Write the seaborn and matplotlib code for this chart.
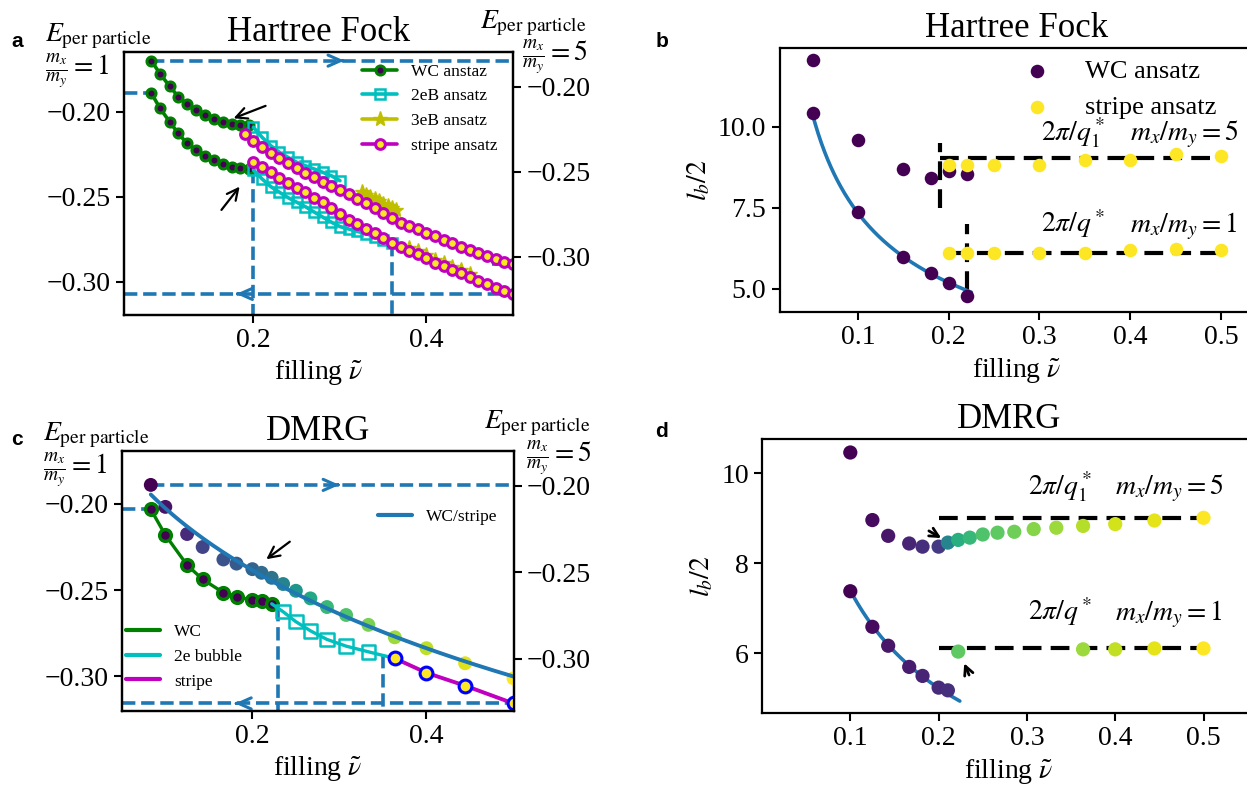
import numpy as np
import pandas as pd
import matplotlib
matplotlib.use("Agg")
import matplotlib.pyplot as plt
from matplotlib.lines import Line2D
import seaborn as sns

# ======================= DATA =======================
# ---- panel a : Hartree-Fock energy per particle ----
a_wc_x = [0.082, 0.092, 0.103, 0.113, 0.123, 0.134, 0.144, 0.154, 0.165, 0.175, 0.185, 0.195]
a_wc_m1 = [-0.1892, -0.1980, -0.2059, -0.2127, -0.2186, -0.2225, -0.2259, -0.2284, -0.2308, -0.2324, -0.2334, -0.2340]
a_wc_m5 = [-0.1847, -0.1925, -0.1996, -0.2059, -0.2102, -0.2137, -0.2167, -0.2190, -0.2206, -0.2218, -0.2224, -0.2228]

a_2eb_x_m5 = [0.20, 0.21, 0.22, 0.23, 0.24, 0.25, 0.26, 0.27, 0.28, 0.29, 0.30]
a_2eb_m5 = [-0.2239, -0.2298, -0.2347, -0.2386, -0.2416, -0.2445, -0.2465, -0.2484, -0.2504, -0.2524, -0.2553]
a_2eb_x_m1 = [0.20, 0.21, 0.22, 0.23, 0.24, 0.25, 0.26, 0.27, 0.28, 0.29, 0.30, 0.31, 0.32, 0.33, 0.34, 0.35, 0.36]
a_2eb_m1 = [-0.2343, -0.2396, -0.2441, -0.2474, -0.2506, -0.2533, -0.2559, -0.2590, -0.2620, -0.2650, -0.2676,
            -0.2690, -0.2704, -0.2718, -0.2735, -0.2752, -0.2770]

a_3eb_x_m5 = [0.325, 0.33, 0.335, 0.34, 0.345, 0.35, 0.355, 0.36, 0.365]
a_3eb_m5 = [-0.2622, -0.2640, -0.2650, -0.2662, -0.2675, -0.2688, -0.2700, -0.2712, -0.2725]
a_3eb_x_m1 = [0.38, 0.39, 0.40, 0.41, 0.42, 0.43, 0.44, 0.45]
a_3eb_m1 = [-0.2803, -0.2822, -0.2845, -0.2870, -0.2890, -0.2912, -0.2933, -0.2955]

a_str_x_m5 = [0.19, 0.20, 0.21, 0.22, 0.23, 0.24, 0.25, 0.26, 0.27, 0.28, 0.29, 0.30, 0.31, 0.32, 0.33, 0.34,
              0.35, 0.36, 0.37, 0.38, 0.39, 0.40, 0.41, 0.42, 0.43, 0.44, 0.45, 0.46, 0.47, 0.48, 0.49, 0.50]
a_str_m5 = [-0.2279, -0.2318, -0.2357, -0.2390, -0.2422, -0.2449, -0.2480, -0.2508, -0.2533, -0.2559, -0.2582,
            -0.2606, -0.2631, -0.2659, -0.2687, -0.2715, -0.2743, -0.2772, -0.2800, -0.2818, -0.2839, -0.2859,
            -0.2878, -0.2902, -0.2921, -0.2941, -0.2961, -0.2980, -0.2996, -0.3015, -0.3029, -0.3042]
a_str_x_m1 = [0.20, 0.21, 0.22, 0.23, 0.24, 0.25, 0.26, 0.27, 0.28, 0.29, 0.30, 0.31, 0.32, 0.33, 0.34, 0.35,
              0.36, 0.37, 0.38, 0.39, 0.40, 0.41, 0.42, 0.43, 0.44, 0.45, 0.46, 0.47, 0.48, 0.49, 0.50]
a_str_m1 = [-0.2294, -0.2324, -0.2357, -0.2388, -0.2418, -0.2447, -0.2474, -0.2506, -0.2533, -0.2565, -0.2601,
            -0.2637, -0.2661, -0.2692, -0.2715, -0.2745, -0.2771, -0.2795, -0.2819, -0.2839, -0.2863, -0.2888,
            -0.2908, -0.2931, -0.2951, -0.2974, -0.2996, -0.3016, -0.3035, -0.3053, -0.3072]
a_transitions = [0.20, 0.36]

# ---- panel b : Hartree-Fock length scale ----
b_wc_x = [0.05, 0.05, 0.10, 0.10, 0.15, 0.15, 0.18, 0.18, 0.20, 0.20, 0.22, 0.22]
b_wc_l = [12.06, 10.41, 9.59, 7.38, 8.71, 5.99, 8.41, 5.49, 8.64, 5.18, 8.54, 4.77]
b_wc1_x = [0.05, 0.10, 0.15, 0.18, 0.20, 0.22]
b_wc1_l = [10.41, 7.38, 5.99, 5.49, 5.18, 4.77]
b_str_x = [0.20, 0.22, 0.25, 0.30, 0.35, 0.40, 0.45, 0.50, 0.20, 0.22, 0.25, 0.30, 0.35, 0.40, 0.45, 0.50]
b_str_l = [8.82, 8.82, 8.82, 8.82, 8.97, 8.97, 9.16, 9.10, 6.09, 6.09, 6.09, 6.09, 6.09, 6.19, 6.21, 6.19]
b_q1 = 9.02      # 2*pi/q1*
b_q = 6.09       # 2*pi/q*
b_trans = [0.19, 0.22]
b_fit_range = [0.05, 0.225]

# ---- panel c : DMRG energy per particle ----
c_up_x = [0.0833, 0.1, 0.125, 0.1429, 0.1667, 0.1818, 0.2, 0.2105, 0.2222, 0.2353, 0.25, 0.2667, 0.2857,
          0.3077, 0.3333, 0.3636, 0.4, 0.4444, 0.5]
c_up_E = [-0.1994, -0.2121, -0.2278, -0.2353, -0.2425, -0.2449, -0.2481, -0.2502, -0.2531, -0.2567, -0.2606,
          -0.2650, -0.2700, -0.2746, -0.2803, -0.2875, -0.2938, -0.3025, -0.3112]
c_up_c = [0.0, 0.05, 0.12, 0.2, 0.25, 0.28, 0.32, 0.35, 0.38, 0.45, 0.52, 0.6, 0.67, 0.72, 0.8, 0.85, 0.9, 0.95, 1.0]
c_wc_x = [0.0833, 0.1, 0.125, 0.1429, 0.1667, 0.1818, 0.2, 0.2105, 0.2222]
c_wc_E = [-0.2031, -0.2180, -0.2355, -0.2438, -0.2515, -0.2539, -0.2558, -0.2565, -0.2580]
c_2e_x = [0.2353, 0.25, 0.2667, 0.2857, 0.3077, 0.3333]
c_2e_E = [-0.2626, -0.2684, -0.2737, -0.2787, -0.2826, -0.2859]
c_st_x = [0.3636, 0.4, 0.4444, 0.5]
c_st_E = [-0.2897, -0.2981, -0.3056, -0.3159]
c_transitions = [0.229, 0.35]

# ---- panel d : DMRG length scale ----
d_up_x = [0.1, 0.125, 0.1429, 0.1667, 0.1818, 0.2, 0.2105, 0.2222, 0.2353, 0.25, 0.2667, 0.2857, 0.3077,
          0.3333, 0.3636, 0.4, 0.4444, 0.5]
d_up_l = [10.46, 8.96, 8.61, 8.44, 8.37, 8.37, 8.46, 8.52, 8.57, 8.64, 8.68, 8.70, 8.76, 8.79, 8.83, 8.87, 8.95, 9.01]
d_up_c = [0.0, 0.03, 0.06, 0.1, 0.13, 0.17, 0.45, 0.63, 0.67, 0.72, 0.75, 0.78, 0.82, 0.85, 0.89, 0.93, 0.96, 1.0]
d_lo_x = [0.1, 0.125, 0.1429, 0.1667, 0.1818, 0.2, 0.2105, 0.2222, 0.3636, 0.4, 0.4444, 0.5]
d_lo_l = [7.38, 6.59, 6.17, 5.70, 5.50, 5.24, 5.18, 6.04, 6.09, 6.09, 6.11, 6.11]
d_lo_c = [0.0, 0.03, 0.06, 0.08, 0.1, 0.12, 0.14, 0.75, 0.85, 0.91, 0.96, 1.0]
d_wc_n = 7
d_q1 = 9.01
d_q = 6.11
d_fit_range = [0.1, 0.224]

# ======================= STYLE =======================
sns.set_theme(style="ticks", color_codes=False)
plt.rcParams["font.family"] = ["Liberation Serif", "DejaVu Serif"]
plt.rcParams["mathtext.fontset"] = "stix"
plt.rcParams["axes.unicode_minus"] = True
for k in ["text.color", "axes.labelcolor", "xtick.color", "ytick.color", "axes.edgecolor"]:
    plt.rcParams[k] = "black"

W, H = 1247, 793
BLUE = "#1f77b4"
GREEN = "#008000"
CYAN = "#00bfbf"
OLIVE = "#bfbf00"
MAG = "#bf00bf"
cmap = plt.get_cmap("viridis")
V0, V1 = cmap(0.0), cmap(1.0)
TICK = 20
LAB = 20
TIT = 25
LEG = 12.5

fig = plt.figure(figsize=(W / 100, H / 100), dpi=100)


def px_axes(l, t, r, b):
    return fig.add_axes([l / W, 1 - b / H, (r - l) / W, (b - t) / H])


def style_ax(ax):
    for s in ax.spines.values():
        s.set_linewidth(1.6)
        s.set_color("black")
    ax.tick_params(direction="out", length=6, width=1.5, labelsize=TICK, colors="black")
    ax.grid(False)


def fig_text(x, y, s, **kw):
    fig.text(x / W, 1 - y / H, s, **kw)


def chevron(ax, x, y, d):
    ax.annotate("", xy=(x, y), xytext=(x - d * 0.002, y),
                arrowprops=dict(arrowstyle="->,head_length=0.45,head_width=0.2", color=BLUE, lw=2.2,
                                shrinkA=0, shrinkB=0, mutation_scale=20))


def karrow(ax, tail, tip, lw=1.6, ms=20):
    ax.annotate("", xy=tip, xytext=tail,
                arrowprops=dict(arrowstyle="->", color="black", lw=lw, shrinkA=0, shrinkB=0, mutation_scale=ms))


def line(ax, x, y, **kw):
    sns.lineplot(x=x, y=y, ax=ax, estimator=None, sort=False, legend=False, **kw)


# ======================= PANEL a =======================
axA = px_axes(123.7, 52.3, 513, 315)
axA2 = axA.twinx()
xl = (0.05, 0.5)
axA.set_xlim(*xl)
axA.set_ylim(-0.3196, -0.1651)
axA2.set_ylim(-0.3343, -0.1798)

dash = dict(color=BLUE, lw=2.6, ls="--", zorder=1)
axA.plot([xl[0], a_wc_x[0]], [a_wc_m1[0]] * 2, **dash)
axA.plot([xl[0], a_str_x_m1[-1]], [a_str_m1[-1]] * 2, **dash)
for xt in a_transitions:
    yt = np.interp(xt, a_2eb_x_m1, a_2eb_m1)
    axA.plot([xt, xt], [yt, -0.3196], **dash)
chevron(axA, 0.18, a_str_m1[-1], -1)
axA2.plot([a_wc_x[0], xl[1]], [a_wc_m5[0]] * 2, **dash)
axA2.plot([0.476, xl[1]], [a_str_m5[-1]] * 2, **dash)
chevron(axA2, 0.305, a_wc_m5[0], 1)

wc_kw = dict(color=GREEN, lw=2.6, marker="o", ms=6.5, mfc=V0, mec=GREEN, mew=2.2)
eb2_kw = dict(color=CYAN, lw=2.6, marker="s", ms=7, mfc="none", mec=CYAN, mew=1.8)
eb3_kw = dict(color=OLIVE, lw=2.6, marker="*", ms=11, mfc=OLIVE, mec=OLIVE, mew=1.0)
st_kw = dict(color=MAG, lw=2.6, marker="o", ms=7, mfc=V1, mec=MAG, mew=2.2)
for ax, wx, wy, ex, ey, tx, ty, sx, sy in [
        (axA, a_wc_x, a_wc_m1, a_2eb_x_m1, a_2eb_m1, a_3eb_x_m1, a_3eb_m1, a_str_x_m1, a_str_m1),
        (axA2, a_wc_x, a_wc_m5, a_2eb_x_m5, a_2eb_m5, a_3eb_x_m5, a_3eb_m5, a_str_x_m5, a_str_m5)]:
    line(ax, wx, wy, **wc_kw)
    line(ax, ex, ey, **eb2_kw)
    line(ax, tx, ty, **eb3_kw)
    line(ax, sx, sy, **st_kw)

karrow(axA, (0.214, -0.1966), (0.177, -0.2039))
karrow(axA, (0.163, -0.2578), (0.184, -0.2441))

TL = ["\u22120.30", "\u22120.25", "\u22120.20"]
axA.set_xticks([0.2, 0.4])
axA.set_xticklabels(["0.2", "0.4"])
for ax in (axA, axA2):
    ax.set_yticks([-0.30, -0.25, -0.20])
    ax.set_yticklabels(TL)
    ax.set_ylabel("")
    style_ax(ax)
axA.set_xlabel(r"filling $\tilde{\nu}$", fontsize=LAB)
axA.set_title("Hartree Fock", fontsize=TIT, pad=8)
hA = [Line2D([], [], **wc_kw), Line2D([], [], **eb2_kw), Line2D([], [], **eb3_kw), Line2D([], [], **st_kw)]
axA2.legend(hA, ["WC anstaz", "2eB ansatz", "3eB ansatz", "stripe ansatz"], loc="center right",
            bbox_to_anchor=(1.0, 0.785), frameon=False, fontsize=LEG)

# ======================= PANEL c =======================
axC = px_axes(121.8, 451, 513.5, 711)
axC2 = axC.twinx()
axC.set_xlim(*xl)
axC.set_ylim(-0.3203, -0.1692)
axC2.set_ylim(-0.3301, -0.1798)

axC.plot([xl[0], c_wc_x[0]], [c_wc_E[0]] * 2, **dash)
axC.plot([xl[0], c_st_x[-1]], [c_st_E[-1]] * 2, **dash)
cyan_x = [c_wc_x[-1]] + c_2e_x + [c_st_x[0]]
cyan_E = [c_wc_E[-1]] + c_2e_E + [c_st_E[0]]
for xt in c_transitions:
    yt = np.interp(xt, cyan_x, cyan_E)
    axC.plot([xt, xt], [yt, -0.3203], **dash)
chevron(axC, 0.18, c_st_E[-1], -1)
axC2.plot([c_up_x[0], xl[1]], [c_up_E[0]] * 2, **dash)
chevron(axC2, 0.30, c_up_E[0], 1)

line(axC, c_wc_x, c_wc_E, color=GREEN, lw=2.4, marker="o", ms=8.5, mfc=V0, mec=GREEN, mew=2.4)
line(axC, cyan_x, cyan_E, color=CYAN, lw=2.4)
sns.scatterplot(x=c_2e_x, y=c_2e_E, ax=axC, marker="s", s=95, facecolor="none", edgecolor=CYAN,
                linewidth=1.8, legend=False, zorder=3)
line(axC, c_st_x, c_st_E, color=MAG, lw=2.8)
sns.scatterplot(x=c_st_x, y=c_st_E, ax=axC, s=85, color=V1, edgecolor="#0000ff", linewidth=2.2,
                legend=False, zorder=3)

sns.scatterplot(x=c_up_x, y=c_up_E, hue=c_up_c, palette="viridis", hue_norm=(0, 1), s=100, linewidth=0,
                ax=axC2, legend=False, zorder=2)
coef = np.polyfit(np.sqrt(c_up_x), c_up_E, 2)
xf = np.linspace(c_up_x[0], c_up_x[-1], 200)
line(axC2, xf, np.polyval(coef, np.sqrt(xf)), color=BLUE, lw=2.8)

karrow(axC, (0.243, -0.2219), (0.216, -0.2321))

axC.set_xticks([0.2, 0.4])
axC.set_xticklabels(["0.2", "0.4"])
for ax in (axC, axC2):
    ax.set_yticks([-0.30, -0.25, -0.20])
    ax.set_yticklabels(TL)
    ax.set_ylabel("")
    style_ax(ax)
axC.set_xlabel(r"filling $\tilde{\nu}$", fontsize=LAB)
axC.set_title("DMRG", fontsize=TIT, pad=8)
hC = [Line2D([], [], color=GREEN, lw=3), Line2D([], [], color=CYAN, lw=3), Line2D([], [], color=MAG, lw=3)]
axC.legend(hC, ["WC", "2e bubble", "stripe"], loc="center left", bbox_to_anchor=(-0.008, 0.209),
           borderaxespad=0.0, frameon=False, fontsize=LEG)
axC2.legend([Line2D([], [], color=BLUE, lw=3)], ["WC/stripe"], loc="center right",
            bbox_to_anchor=(1.0, 0.747), frameon=False, fontsize=LEG)

# ======================= PANEL b =======================
axB = px_axes(779.5, 47.7, 1254, 312.3)
axB.set_xlim(0.0135, 0.5365)
axB.set_ylim(4.27, 12.44)
blk = dict(color="black", lw=3, ls=(0, (4.5, 2.2)), zorder=2)
axB.plot([b_trans[0], b_str_x[7]], [b_q1] * 2, **blk)
axB.plot([b_str_x[8], b_str_x[15]], [b_q] * 2, **blk)
axB.plot([b_trans[0]] * 2, [7.48, 9.49], **blk)
axB.plot([b_trans[1]] * 2, [4.96, 7.0], **blk)
sns.scatterplot(x=b_wc_x, y=b_wc_l, ax=axB, color=V0, s=95, linewidth=0, label="WC ansatz", zorder=3)
sns.scatterplot(x=b_str_x, y=b_str_l, ax=axB, color=V1, s=95, linewidth=0, label="stripe ansatz", zorder=3)
cb = np.sum(np.array(b_wc1_l) / np.sqrt(b_wc1_x)) / np.sum(1.0 / np.array(b_wc1_x))
xb = np.linspace(b_fit_range[0], b_fit_range[1], 200)
line(axB, xb, cb / np.sqrt(xb), color=BLUE, lw=2.6)
axB.text(0.302, 9.57, r"$2\pi/q_1^*$", fontsize=20, va="baseline")
axB.text(0.40, 9.57, r"$m_x/m_y=5$", fontsize=20, va="baseline")
axB.text(0.302, 6.74, r"$2\pi/q^*$", fontsize=20, va="baseline")
axB.text(0.40, 6.74, r"$m_x/m_y=1$", fontsize=20, va="baseline")
axB.set_xticks([0.1, 0.2, 0.3, 0.4, 0.5])
axB.set_xticklabels(["0.1", "0.2", "0.3", "0.4", "0.5"])
axB.set_yticks([5.0, 7.5, 10.0])
axB.set_yticklabels(["5.0", "7.5", "10.0"])
axB.set_xlabel(r"filling $\tilde{\nu}$", fontsize=LAB)
axB.set_ylabel(r"$l_b/2$", fontsize=LAB)
axB.set_title("Hartree Fock", fontsize=TIT, pad=8)
style_ax(axB)
axB.legend(loc="center right", bbox_to_anchor=(0.97, 0.843), frameon=False, fontsize=19)

# ======================= PANEL d =======================
axD = px_axes(762, 439, 1256.5, 713.3)
axD.set_xlim(0.0, 0.56)
axD.set_ylim(4.67, 10.76)
axD.plot([0.2, d_up_x[-1]], [d_q1] * 2, **blk)
axD.plot([0.2, d_lo_x[-1]], [d_q] * 2, **blk)
sns.scatterplot(x=d_up_x, y=d_up_l, hue=d_up_c, palette="viridis", hue_norm=(0, 1), s=105, linewidth=0,
                ax=axD, legend=False, zorder=3)
sns.scatterplot(x=d_lo_x, y=d_lo_l, hue=d_lo_c, palette="viridis", hue_norm=(0, 1), s=105, linewidth=0,
                ax=axD, legend=False, zorder=3)
cd = np.sum(np.array(d_lo_l[:d_wc_n]) / np.sqrt(d_lo_x[:d_wc_n])) / np.sum(1.0 / np.array(d_lo_x[:d_wc_n]))
xd = np.linspace(d_fit_range[0], d_fit_range[1], 200)
line(axD, xd, cd / np.sqrt(xd), color=BLUE, lw=2.6)
karrow(axD, (0.189, 8.72), (0.203, 8.56), lw=2.0, ms=16)
karrow(axD, (0.2345, 5.52), (0.229, 5.78), lw=2.0, ms=16)
axD.text(0.301, 9.52, r"$2\pi/q_1^*$", fontsize=20, va="baseline")
axD.text(0.40, 9.52, r"$m_x/m_y=5$", fontsize=20, va="baseline")
axD.text(0.301, 6.74, r"$2\pi/q^*$", fontsize=20, va="baseline")
axD.text(0.40, 6.74, r"$m_x/m_y=1$", fontsize=20, va="baseline")
axD.set_xticks([0.1, 0.2, 0.3, 0.4, 0.5])
axD.set_xticklabels(["0.1", "0.2", "0.3", "0.4", "0.5"])
axD.set_yticks([6, 8, 10])
axD.set_yticklabels(["6", "8", "10"])
axD.set_xlabel(r"filling $\tilde{\nu}$", fontsize=LAB)
axD.set_ylabel(r"$l_b/2$", fontsize=LAB)
axD.set_title("DMRG", fontsize=TIT, pad=8)
style_ax(axD)

# ======================= figure texts =======================
Ep = r"$E_{\rm per\ particle}$"
fig_text(45, 41.7, Ep, fontsize=20, va="baseline")
fig_text(45, 71, r"$\frac{m_x}{m_y}=1$", fontsize=20, va="center")
fig_text(480, 28.3, Ep, fontsize=20, va="baseline")
fig_text(522, 57, r"$\frac{m_x}{m_y}=5$", fontsize=20, va="center")
fig_text(42.7, 440, Ep, fontsize=20, va="baseline")
fig_text(42.7, 470, r"$\frac{m_x}{m_y}=1$", fontsize=20, va="center")
fig_text(484, 428, Ep, fontsize=20, va="baseline")
fig_text(525.7, 458, r"$\frac{m_x}{m_y}=5$", fontsize=20, va="center")

lab = dict(fontsize=15, fontweight="bold", family=["Liberation Sans", "DejaVu Sans"], va="baseline")
fig_text(11, 46.7, "a", **lab)
fig_text(655.5, 46.7, "b", **lab)
fig_text(11, 445, "c", **lab)
fig_text(655.5, 437, "d", **lab)

fig.savefig("out.png", dpi=100)
